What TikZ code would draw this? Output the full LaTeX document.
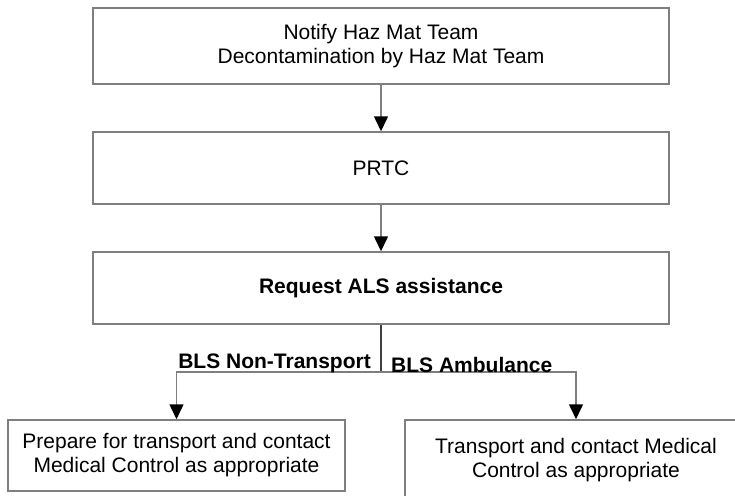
\documentclass[tikz,border=0pt]{standalone}
\usepackage{fontspec}
\setmainfont{Liberation Sans}
\usetikzlibrary{arrows.meta}

\definecolor{linegray}{HTML}{7F7F7F}
\definecolor{darkline}{HTML}{404040}

\tikzset{
  stepbox/.style={draw=linegray, line width=1.5pt, inner sep=0pt, align=center,
    font=\fontsize{21}{24}\selectfont},
  flow/.style={draw=linegray, line width=1.5pt,
    -{Triangle[length=15pt, width=14pt, color=black, fill=black]}},
  branchlabel/.style={inner sep=0pt, font=\fontsize{21}{24}\selectfont\bfseries}
}

\begin{document}
\begin{tikzpicture}[x=1pt, y=-1pt]
    \useasboundingbox (0,0) rectangle (735,495);
    \clip (0,0) rectangle (735,495);

    % the three boxes down the middle
    \node[stepbox, minimum width=576pt, minimum height=76pt] (hazmat) at (381,46)
        {Notify Haz Mat Team\\Decontamination by Haz Mat Team};
    \node[stepbox, minimum width=576pt, minimum height=72pt] (prtc) at (381,168) {PRTC};
    \node[stepbox, minimum width=576pt, minimum height=72pt] (als) at (381,288)
        {\bfseries Request ALS assistance};

    % the two outcomes
    \node[stepbox, minimum width=337pt, minimum height=71pt] (prepare) at (176.5,455.5)
        {Prepare for transport and contact\\Medical Control as appropriate};
    \node[stepbox, minimum width=342pt, minimum height=80pt] (transport) at (576,460)
        {Transport and contact Medical\\Control as appropriate};

    \coordinate (split) at (381,372);

    \draw[flow] (hazmat) -- (prtc);
    \draw[flow] (prtc) -- (als);
    \draw[darkline, line width=1.5pt] (als) -- (split);
    \draw[flow] (split) -| (prepare);
    \draw[flow] (split) -| (transport);

    % labels on the branches
    \node[branchlabel, anchor=base east] (nontransport) at (371,368) {BLS Non-Transport};
    \node[branchlabel, anchor=base west] (ambulance) at (391,372) {BLS Ambulance};
\end{tikzpicture}
\end{document}
